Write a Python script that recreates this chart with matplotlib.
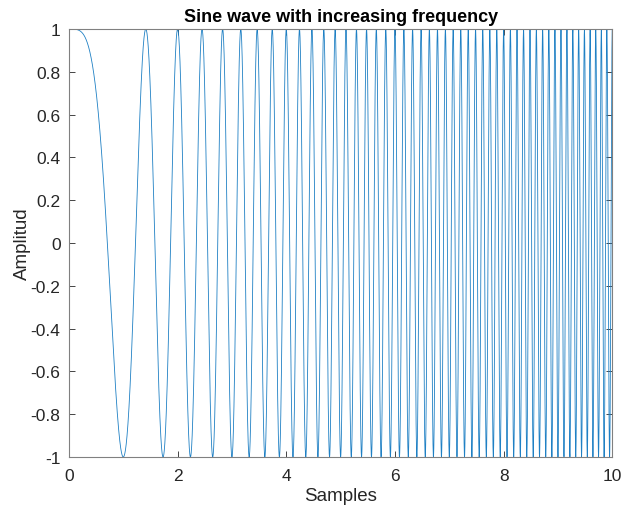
import numpy as np
import matplotlib.pyplot as plt

plt.rcParams['font.family'] = ['Liberation Sans', 'DejaVu Sans']

# chirp signal: cos(pi * t^2), instantaneous frequency grows linearly with t
t_start, t_step, t_end = 0.0, 0.001, 10.0
t = np.arange(t_start, t_end + t_step / 2, t_step)
y = np.cos(np.pi * t ** 2)

x_ticks = [0, 2, 4, 6, 8, 10]
y_ticks = [-1, -0.8, -0.6, -0.4, -0.2, 0, 0.2, 0.4, 0.6, 0.8, 1]
y_tick_labels = ['-1', '-0.8', '-0.6', '-0.4', '-0.2', '0', '0.2', '0.4', '0.6', '0.8', '1']

fig = plt.figure(figsize=(6.21, 5.10), dpi=100)
ax = fig.add_axes([0.111, 0.102, 0.875, 0.839])
ax.plot(t, y, color='#1f80c4', linewidth=0.6)

ax.set_xlim(0, 10)
ax.set_ylim(-1, 1)
ax.set_xticks(x_ticks)
ax.set_yticks(y_ticks)
ax.set_yticklabels(y_tick_labels)

grey = '#262626'
for side in ax.spines.values():
    side.set_color('#808080')
    side.set_linewidth(0.8)
ax.tick_params(direction='in', top=True, right=True, length=4, width=0.6,
               color=grey, labelcolor=grey, labelsize=12.5, pad=6)
ax.tick_params(axis='x', pad=8)

ax.set_xlabel('Samples', fontsize=13.5, color=grey, labelpad=3)
ax.set_ylabel('Amplitud', fontsize=13.5, color=grey, labelpad=0)
ax.set_title('Sine wave with increasing frequency', fontsize=13, fontweight='bold', pad=6)

fig.savefig('out.png', dpi=100)
